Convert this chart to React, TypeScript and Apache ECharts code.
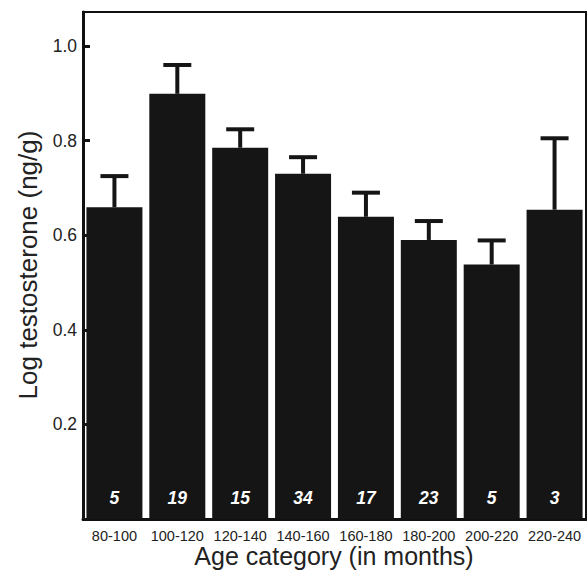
import React, { useEffect, useRef } from "react";
import * as echarts from "echarts";

const categories = ["80-100", "100-120", "120-140", "140-160", "160-180", "180-200", "200-220", "220-240"];
const means = [0.659, 0.899, 0.785, 0.73, 0.639, 0.59, 0.538, 0.654];
const upper = [0.725, 0.96, 0.824, 0.765, 0.69, 0.63, 0.589, 0.805];
const counts = [5, 19, 15, 34, 17, 23, 5, 3];
const yTicks = [0.2, 0.4, 0.6, 0.8, 1.0];

const FONT = "Liberation Sans, Arial, Helvetica, sans-serif";

export default function App() {
  const ref = useRef<HTMLDivElement>(null);
  useEffect(() => {
    if (!ref.current) return;
    const chart = echarts.init(ref.current, null, { renderer: "svg" });
    const errData = categories.map((_, i) => [i, means[i], upper[i]]);
    chart.setOption({
      animation: false,
      textStyle: { fontFamily: FONT },
      grid: {
        left: 83,
        right: 1,
        top: 12,
        bottom: 53,
        show: true,
        borderColor: "#111",
        borderWidth: 2,
        backgroundColor: "transparent",
      },
      xAxis: {
        type: "category",
        data: categories,
        axisLine: { lineStyle: { color: "#111", width: 3 } },
        axisTick: { show: false },
        axisLabel: { fontSize: 14.5, color: "#222", margin: 9, fontFamily: FONT, interval: 0 },
        splitLine: { show: false },
      },
      yAxis: {
        type: "value",
        min: 0,
        max: 1.072,
        interval: 0.2,
        axisLine: { show: true, lineStyle: { color: "#111", width: 3 } },
        axisTick: { show: true, inside: true, length: 7, lineStyle: { color: "#111", width: 3 } },
        axisLabel: {
          fontSize: 17.5,
          color: "#222",
          margin: 6,
          fontFamily: FONT,
          showMaxLabel: false,
          formatter: (v: number) => (yTicks.some((t) => Math.abs(t - v) < 1e-6) ? v.toFixed(1) : ""),
        },
        splitLine: { show: false },
      },
      series: [
        {
          type: "bar",
          data: means,
          barWidth: 56,
          itemStyle: { color: "#151515" },
          label: {
            show: true,
            position: "insideBottom",
            distance: 12,
            color: "#fff",
            fontSize: 17.5,
            fontWeight: "bold",
            fontStyle: "italic",
            fontFamily: FONT,
            formatter: (p: any) => String(counts[p.dataIndex]),
          },
          z: 2,
        },
        {
          type: "custom",
          data: errData,
          z: 3,
          renderItem: (params: any, api: any) => {
            const i = api.value(0);
            const base = api.coord([i, api.value(1)]);
            const top = api.coord([i, api.value(2)]);
            const half = 14;
            return {
              type: "group",
              children: [
                {
                  type: "line",
                  shape: { x1: base[0], y1: base[1], x2: top[0], y2: top[1] },
                  style: { stroke: "#151515", lineWidth: 4 },
                },
                {
                  type: "line",
                  shape: { x1: top[0] - half, y1: top[1], x2: top[0] + half, y2: top[1] },
                  style: { stroke: "#151515", lineWidth: 4 },
                },
              ],
            };
          },
        },
      ],
      graphic: [
        {
          type: "text",
          x: 28,
          y: 265,
          rotation: Math.PI / 2,
          style: {
            text: "Log testosterone (ng/g)",
            fontSize: 26,
            fontFamily: FONT,
            fill: "#222",
            align: "center",
            verticalAlign: "middle",
          },
        },
        {
          type: "text",
          x: 334,
          y: 556,
          style: {
            text: "Age category (in months)",
            fontSize: 25,
            fontFamily: FONT,
            fill: "#222",
            align: "center",
            verticalAlign: "middle",
          },
        },
      ],
    });
    return () => chart.dispose();
  }, []);
  return (
    <div
      ref={ref}
      style={{ position: "fixed", left: 0, top: 0, width: 587, height: 572, background: "#fff" }}
    />
  );
}
